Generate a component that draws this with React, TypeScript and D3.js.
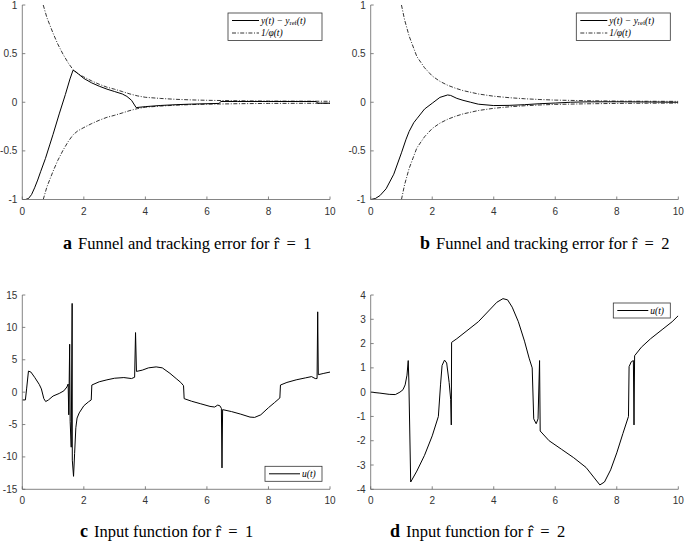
import React from "react";
import * as d3 from "d3";

type Pt = [number, number];

const xTicks = [0, 2, 4, 6, 8, 10];
const yTicksAB = [-1, -0.5, 0, 0.5, 1];
const yTicksC = [-15, -10, -5, 0, 5, 10, 15];
const yTicksD = [-4, -3, -2, -1, 0, 1, 2, 3, 4];

// Panel a: tracking error and funnel boundary (r̂ = 1)
const errorA: Pt[] = [
  [0, -1], [0.1, -1], [0.2, -0.99], [0.3, -0.95], [0.4, -0.88], [0.5, -0.8], [0.6, -0.71],
  [0.75, -0.58], [0.9, -0.43], [1.0, -0.33], [1.2, -0.12], [1.4, 0.08], [1.55, 0.24],
  [1.65, 0.33], [1.75, 0.31], [2.0, 0.245], [2.25, 0.2], [2.5, 0.165], [2.75, 0.135],
  [3.0, 0.11], [3.25, 0.085], [3.4, 0.06], [3.55, 0.02], [3.7, -0.055], [4.0, -0.045],
  [4.5, -0.033], [5.0, -0.025], [5.5, -0.019], [6.0, -0.015], [6.4, -0.012], [6.45, 0.008],
  [7, 0.008], [8, 0.008], [9, 0.008], [9.55, 0.008], [9.6, -0.01], [10, -0.01],
];
const funnelA: Pt[] = [
  [0.68, 1.0], [0.8, 0.87], [1.0, 0.71], [1.15, 0.6], [1.33, 0.49], [1.5, 0.4], [1.65, 0.335],
  [1.8, 0.295], [2.0, 0.26], [2.25, 0.22], [2.5, 0.185], [2.75, 0.155], [3.0, 0.134],
  [3.25, 0.11], [3.5, 0.085], [3.75, 0.065], [4.0, 0.051], [4.5, 0.039], [5.0, 0.03],
  [5.5, 0.024], [6.0, 0.02], [7.0, 0.015], [8.0, 0.012], [9.0, 0.011], [10, 0.01],
];

// Panel b: tracking error and funnel boundary (r̂ = 2)
const errorB: Pt[] = [
  [0, -1], [0.15, -0.99], [0.3, -0.96], [0.5, -0.89], [0.75, -0.74], [1.0, -0.52],
  [1.15, -0.38], [1.25, -0.3], [1.4, -0.21], [1.5, -0.17], [1.75, -0.07], [2.0, -0.01],
  [2.25, 0.05], [2.5, 0.075], [2.6, 0.07], [2.8, 0.04], [3.0, 0.02], [3.25, 0.0],
  [3.5, -0.02], [4.0, -0.034], [4.5, -0.032], [5.0, -0.025], [5.5, -0.015], [6.0, -0.008],
  [6.5, 0.0], [7.0, 0.004], [8.0, 0.005], [9.0, 0.003], [10, 0.0],
];
const funnelB: Pt[] = [
  [1.0, 1.0], [1.1, 0.85], [1.25, 0.68], [1.5, 0.47], [1.75, 0.355], [2.0, 0.27],
  [2.25, 0.215], [2.5, 0.175], [2.75, 0.145], [3.0, 0.12], [3.5, 0.085], [4.0, 0.062],
  [4.5, 0.047], [5.0, 0.036], [5.5, 0.028], [6.0, 0.022], [7.0, 0.016], [8.0, 0.012],
  [9.0, 0.01], [10, 0.009],
];

// Panel c: input u(t) for r̂ = 1
const inputC: Pt[] = [
  [0, -1.2], [0.1, -1.2], [0.14, 0.5], [0.2, 3.25], [0.28, 3.1], [0.4, 2.3], [0.55, 1.2],
  [0.62, 0.5], [0.7, -1.0], [0.76, -1.45], [0.85, -1.2], [1.0, -0.6], [1.2, -0.2],
  [1.35, 0.2], [1.45, 0.8], [1.49, 1.25], [1.51, -3.5], [1.54, 7.4], [1.555, -4.5],
  [1.59, -8.5], [1.62, 13.7], [1.625, -10.5], [1.665, -13.0], [1.7, -9.5], [1.74, -5.5],
  [1.78, -4.0], [1.85, -3.2], [2.0, -2.1], [2.15, -1.5], [2.24, -1.2], [2.26, 1.1],
  [2.5, 1.6], [2.75, 1.9], [3.0, 2.15], [3.3, 2.25], [3.55, 2.1], [3.65, 2.3], [3.68, 9.2],
  [3.71, 3.2], [3.9, 3.4], [4.1, 3.75], [4.35, 3.9], [4.55, 3.75], [4.8, 2.9], [5.0, 2.1],
  [5.15, 1.5], [5.24, 1.0], [5.26, -1.0], [5.5, -1.4], [5.8, -1.8], [6.1, -2.2],
  [6.25, -2.3], [6.35, -2.0], [6.42, -2.1], [6.47, -2.5], [6.49, -11.7], [6.51, -2.7],
  [6.8, -3.0], [7.1, -3.4], [7.4, -3.85], [7.55, -3.9], [7.75, -3.5], [8.0, -2.4],
  [8.2, -1.6], [8.37, -0.9], [8.39, 1.1], [8.6, 1.5], [8.9, 1.9], [9.2, 2.2], [9.4, 2.4],
  [9.52, 2.1], [9.58, 2.1], [9.6, 12.4], [9.62, 2.7], [9.8, 2.9], [10, 3.1],
];

// Panel d: input u(t) for r̂ = 2
const inputD: Pt[] = [
  [0, 0], [0.3, -0.04], [0.6, -0.09], [0.8, -0.1], [0.95, 0], [1.05, 0.1], [1.12, 0.3],
  [1.18, 0.7], [1.22, 1.3], [1.24, 0.5], [1.3, -3.7], [1.5, -3.25], [1.75, -2.6],
  [2.0, -1.8], [2.2, -1.0], [2.27, 0.3], [2.32, 1.1], [2.4, 1.32], [2.47, 1.2],
  [2.55, 0.4], [2.6, -0.3], [2.62, -1.35], [2.63, 2.05], [2.8, 2.2], [3.1, 2.5],
  [3.5, 2.9], [3.8, 3.3], [4.1, 3.7], [4.3, 3.85], [4.45, 3.8], [4.6, 3.5], [4.8, 2.9],
  [5.0, 2.1], [5.15, 1.4], [5.25, 1.0], [5.3, -1.1], [5.38, -1.3], [5.44, -1.1],
  [5.49, 1.3], [5.51, -1.6], [5.8, -2.0], [6.2, -2.35], [6.6, -2.7], [7.0, -3.1],
  [7.25, -3.5], [7.45, -3.82], [7.6, -3.7], [7.8, -3.2], [8.0, -2.5], [8.2, -1.7],
  [8.38, -1.0], [8.4, 1.05], [8.47, 1.25], [8.54, 1.3], [8.56, -1.35], [8.58, 1.5],
  [8.8, 1.85], [9.1, 2.2], [9.5, 2.6], [9.8, 2.9], [10, 3.15],
];

const captions = [
  { letter: "a", text: "Funnel and tracking error for r\u0302 \u2009=\u2009 1" },
  { letter: "b", text: "Funnel and tracking error for r\u0302 \u2009=\u2009 2" },
  { letter: "c", text: "Input function for r\u0302 \u2009=\u2009 1" },
  { letter: "d", text: "Input function for r\u0302 \u2009=\u2009 2" },
];

const AXIS = "#666";
const LABEL = "#333";
const SANS = "'Liberation Sans', Arial, sans-serif";
const SERIF = "'Liberation Serif', 'Times New Roman', serif";
const DASHDOT = "4,1.6,1,1.6";

type Series = { data: Pt[]; dash?: string };
type PanelProps = {
  left: number; right: number; top: number; bottom: number;
  yDomain: [number, number]; yTicks: number[]; series: Series[];
  legend: "funnel" | "input"; legendPos: "top" | "bottom";
};

function fmt(v: number) {
  return String(v);
}

function Panel(p: PanelProps) {
  const x = d3.scaleLinear().domain([0, 10]).range([p.left, p.right]);
  const y = d3.scaleLinear().domain(p.yDomain).range([p.bottom, p.top]);
  const line = d3.line<Pt>().x((d) => x(d[0])).y((d) => y(d[1]));
  const clipId = `clip-${Math.round(p.left)}-${Math.round(p.top)}`;

  let legendEl: React.ReactNode = null;
  if (p.legend === "funnel") {
    const w = 94, h = 27.5;
    const lx = p.right - 8 - w, ly = p.top + 8;
    legendEl = (
      <g>
        <rect x={lx} y={ly} width={w} height={h} fill="#fff" stroke="#333" strokeWidth={0.8} />
        <line x1={lx + 4} x2={lx + 31} y1={ly + 7.5} y2={ly + 7.5} stroke="#000" strokeWidth={1} />
        <text x={lx + 33} y={ly + 10.5} fontFamily={SERIF} fontSize={9.5} fontStyle="italic" fill="#000">
          y(t) − y
          <tspan fontStyle="normal" fontSize={6.5} dy={1.8}>ref</tspan>
          <tspan dy={-1.8}>(t)</tspan>
        </text>
        <line x1={lx + 4} x2={lx + 31} y1={ly + 20} y2={ly + 20} stroke="#000" strokeWidth={0.8} strokeDasharray={DASHDOT} />
        <text x={lx + 33} y={ly + 23} fontFamily={SERIF} fontSize={9.5} fontStyle="italic" fill="#000">
          1/φ(t)
        </text>
      </g>
    );
  } else {
    const w = 57, h = 15;
    const lx = p.right - 8 - w;
    const ly = p.legendPos === "top" ? p.top + 8 : p.bottom - 8 - h;
    legendEl = (
      <g>
        <rect x={lx} y={ly} width={w} height={h} fill="#fff" stroke="#333" strokeWidth={0.8} />
        <line x1={lx + 4} x2={lx + 35} y1={ly + h / 2} y2={ly + h / 2} stroke="#000" strokeWidth={1} />
        <text x={lx + 37} y={ly + h / 2 + 3} fontFamily={SERIF} fontSize={9.5} fontStyle="italic" fill="#000">
          u(t)
        </text>
      </g>
    );
  }

  return (
    <g>
      <defs>
        <clipPath id={clipId}>
          <rect x={p.left} y={p.top} width={p.right - p.left} height={p.bottom - p.top} />
        </clipPath>
      </defs>
      <g clipPath={`url(#${clipId})`}>
        {p.series.map((s, i) => (
          <path key={i} d={line(s.data) || ""} fill="none" stroke="#000"
            strokeWidth={s.dash ? 0.8 : 1} strokeDasharray={s.dash} strokeLinejoin="round" />
        ))}
      </g>
      <line x1={p.left} x2={p.right} y1={p.bottom} y2={p.bottom} stroke={AXIS} strokeWidth={0.8} />
      <line x1={p.left} x2={p.left} y1={p.top} y2={p.bottom} stroke={AXIS} strokeWidth={0.8} />
      {xTicks.map((t) => (
        <g key={`x${t}`}>
          <line x1={x(t)} x2={x(t)} y1={p.bottom} y2={p.bottom - 3} stroke={AXIS} strokeWidth={0.8} />
          <text x={x(t)} y={p.bottom + 15} textAnchor="middle" fontFamily={SANS} fontSize={10} fill={LABEL}>
            {fmt(t)}
          </text>
        </g>
      ))}
      {p.yTicks.map((t) => (
        <g key={`y${t}`}>
          <line x1={p.left} x2={p.left + 3} y1={y(t)} y2={y(t)} stroke={AXIS} strokeWidth={0.8} />
          <text x={p.left - 5} y={y(t) + 3.5} textAnchor="end" fontFamily={SANS} fontSize={10} fill={LABEL}>
            {fmt(t)}
          </text>
        </g>
      ))}
      {legendEl}
    </g>
  );
}

function neg(data: Pt[]): Pt[] {
  return data.map((d) => [d[0], -d[1]] as Pt);
}

function Caption({ x, y, letter, text }: { x: number; y: number; letter: string; text: string }) {
  return (
    <text x={x} y={y} fontFamily={SERIF} fontSize={16.5} fill="#000">
      <tspan fontWeight="bold" fontSize={18}>{letter}</tspan>
      <tspan dx={6}>{text}</tspan>
    </text>
  );
}

export default function App() {
  const colA = { left: 22.3, right: 330 };
  const colB = { left: 370.7, right: 678.3 };
  const rowTop = { top: 5, bottom: 199.5 };
  const rowBot = { top: 295, bottom: 489.3 };
  return (
    <svg width={685} height={543} style={{ position: "absolute", left: 0, top: 0, background: "#fff" }}>
      <rect x={0} y={0} width={685} height={543} fill="#fff" />
      <Panel {...colA} {...rowTop} yDomain={[-1, 1]} yTicks={yTicksAB}
        series={[{ data: errorA }, { data: funnelA, dash: DASHDOT }, { data: neg(funnelA), dash: DASHDOT }]}
        legend="funnel" legendPos="top" />
      <Panel {...colB} {...rowTop} yDomain={[-1, 1]} yTicks={yTicksAB}
        series={[{ data: errorB }, { data: funnelB, dash: DASHDOT }, { data: neg(funnelB), dash: DASHDOT }]}
        legend="funnel" legendPos="top" />
      <Panel {...colA} {...rowBot} yDomain={[-15, 15]} yTicks={yTicksC}
        series={[{ data: inputC }]} legend="input" legendPos="bottom" />
      <Panel {...colB} {...rowBot} yDomain={[-4, 4]} yTicks={yTicksD}
        series={[{ data: inputD }]} legend="input" legendPos="top" />
      <Caption x={63} y={249} letter={captions[0].letter} text={captions[0].text} />
      <Caption x={420} y={249} letter={captions[1].letter} text={captions[1].text} />
      <Caption x={80} y={537} letter={captions[2].letter} text={captions[2].text} />
      <Caption x={390} y={537} letter={captions[3].letter} text={captions[3].text} />
    </svg>
  );
}
